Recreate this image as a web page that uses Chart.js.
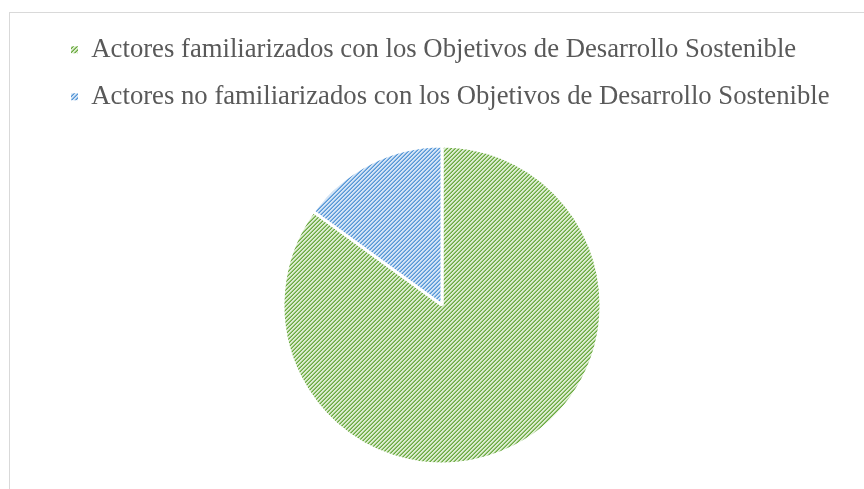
<!DOCTYPE html>
<html>
<head>
<meta charset="utf-8">
<script src="https://cdn.jsdelivr.net/npm/chart.js@4.4.0/dist/chart.umd.min.js"></script>
<style>
  html, body { margin: 0; padding: 0; background: #fff; overflow: hidden; }
  #frame { position: absolute; left: 9px; top: 12px; width: 900px; height: 520px; border: 1px solid #d9d9d9; }
  #wrap { position: absolute; left: 0; top: 0; width: 864px; height: 490px; }
</style>
</head>
<body>
<div id="frame"></div>
<div id="wrap"><canvas id="pie"></canvas></div>
<script>
// data
const labels = [
  'Actores familiarizados con los Objetivos de Desarrollo Sostenible',
  'Actores no familiarizados con los Objetivos de Desarrollo Sostenible'
];
const values = [85, 15];

// excel style "wide upward diagonal" hatch
function hatch(fg, bg) {
  let c = document.createElement('canvas');
  c.width = 8;
  c.height = 8;
  let g = c.getContext('2d');
  g.fillStyle = bg;
  g.fillRect(0, 0, 8, 8);
  g.fillStyle = fg;
  for (let y = 0; y < 8; y++) {
    for (let x = 0; x < 8; x++) {
      let k = (x + y) % 4;
      if (k === 3) {
        g.globalAlpha = 1;
        g.fillRect(x, y, 1, 1);
      } else if (k === 2) {
        g.globalAlpha = 0.6;
        g.fillRect(x, y, 1, 1);
      }
    }
  }
  return g.createPattern(c, 'repeat');
}

const colors = [
  hatch('#6aaa3f', '#dcecd0'),
  hatch('#5596d6', '#d3e4f6')
];

const data = {
  labels: labels,
  datasets: [{
    data: values,
    backgroundColor: colors,
    borderColor: '#ffffff',
    borderWidth: 3
  }]
};

const config = {
  type: 'pie',
  data: data,
  options: {
    responsive: true,
    maintainAspectRatio: false,
    animation: false,
    radius: 159,
    layout: { padding: { left: 50.7, right: 30.7, top: 16, bottom: 0 } },
    plugins: {
      tooltip: { enabled: false },
      legend: {
        position: 'top',
        align: 'start',
        labels: {
          boxWidth: 7,
          boxHeight: 7,
          padding: 20.3,
          color: '#595959',
          font: { family: '"Liberation Serif", "Times New Roman", serif', size: 26.7 },
          generateLabels: function (chart) {
            let items = Chart.overrides.pie.plugins.legend.labels.generateLabels(chart);
            items.forEach(function (it) { it.lineWidth = 0; });
            return items;
          }
        }
      }
    }
  }
};

let ctx = document.getElementById('pie').getContext('2d');
new Chart(ctx, config);
</script>
</body>
</html>
